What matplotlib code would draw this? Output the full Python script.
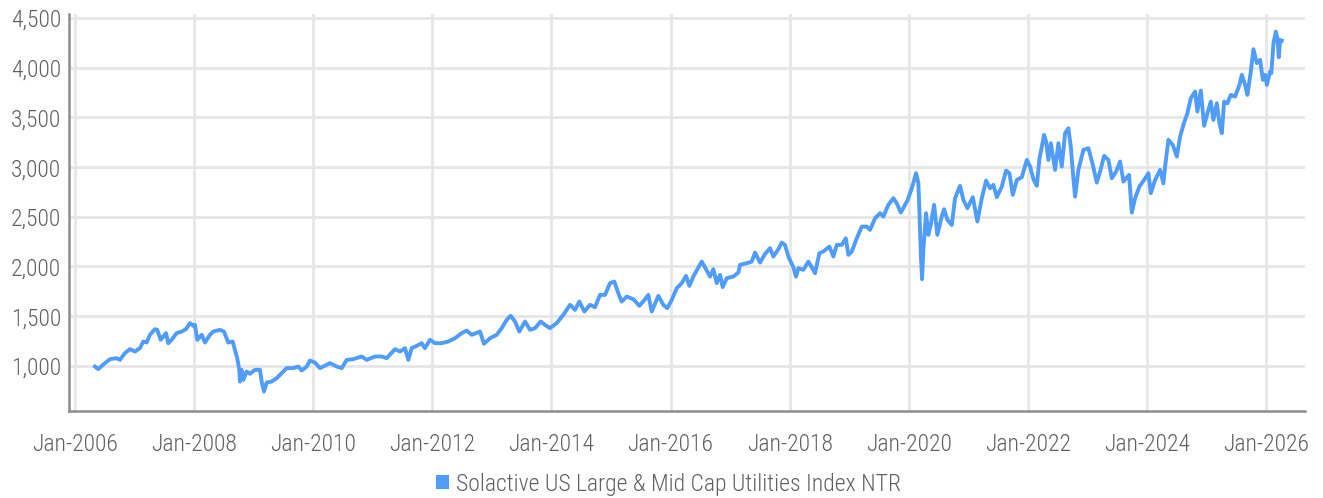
#!/usr/bin/env python3
"""
Solactive US Large & Mid Cap Utilities Index NTR - 走勢圖
"""

import matplotlib
matplotlib.use("Agg")
import matplotlib.pyplot as plt
from matplotlib import font_manager
from matplotlib.patches import Patch
from matplotlib.ticker import FuncFormatter

# 挑一個窄體字型（有哪個用哪個）
installed = {f.name for f in font_manager.fontManager.ttflist}
for name in ['Roboto Condensed', 'Liberation Sans Narrow', 'DejaVu Sans Condensed', 'Roboto']:
    if name in installed:
        FONT = name
        break
else:
    FONT = 'DejaVu Sans'
plt.rcParams['font.family'] = [FONT, 'DejaVu Sans']
plt.rcParams['font.weight'] = 'light'

SERIES_NAME = 'Solactive US Large & Mid Cap Utilities Index NTR'

# 時間（小數年）與指數值
years = [
    2006.336, 2006.391, 2006.470, 2006.588, 2006.700, 2006.756, 2006.840, 2006.924,
    2007.008, 2007.092, 2007.147, 2007.204, 2007.259, 2007.343, 2007.382, 2007.439,
    2007.528, 2007.567, 2007.624, 2007.708, 2007.792, 2007.864, 2007.931, 2007.987,
    2008.015, 2008.054, 2008.128, 2008.183, 2008.267, 2008.322, 2008.435, 2008.502,
    2008.574, 2008.648, 2008.687, 2008.725, 2008.759, 2008.771, 2008.799, 2008.826,
    2008.883, 2008.939, 2009.023, 2009.107, 2009.135, 2009.174, 2009.219, 2009.303,
    2009.387, 2009.471, 2009.555, 2009.666, 2009.750, 2009.807, 2009.891, 2009.946,
    2010.030, 2010.114, 2010.227,
    2010.282, 2010.395, 2010.479, 2010.563, 2010.673, 2010.814, 2010.898, 2011.038,
    2011.150, 2011.234, 2011.374, 2011.458, 2011.542, 2011.597, 2011.654, 2011.738,
    2011.822, 2011.877, 2011.961, 2012.045, 2012.158, 2012.269, 2012.381, 2012.494,
    2012.578, 2012.662, 2012.801, 2012.868, 2012.969, 2013.081, 2013.165, 2013.249,
    2013.316, 2013.389, 2013.461, 2013.557, 2013.641, 2013.725, 2013.820, 2013.892,
    2013.976, 2014.089, 2014.200, 2014.312, 2014.396, 2014.469,
    2014.553, 2014.648, 2014.732, 2014.816, 2014.900, 2014.984, 2015.056, 2015.123,
    2015.180, 2015.264, 2015.375, 2015.476, 2015.555, 2015.627, 2015.684, 2015.795,
    2015.879, 2015.946, 2016.020, 2016.104, 2016.188, 2016.260, 2016.316, 2016.383,
    2016.450, 2016.524, 2016.596, 2016.663, 2016.719, 2016.776, 2016.831, 2016.876,
    2016.944, 2017.054, 2017.139, 2017.167, 2017.280, 2017.364, 2017.419, 2017.503,
    2017.587, 2017.671, 2017.726, 2017.810, 2017.867, 2017.923, 2017.978, 2018.062,
    2018.107, 2018.146, 2018.230, 2018.314, 2018.371, 2018.426, 2018.499, 2018.566,
    2018.667,
    2018.734, 2018.791, 2018.875, 2018.942, 2018.986, 2019.043, 2019.127, 2019.211,
    2019.295, 2019.350, 2019.434, 2019.518, 2019.573, 2019.657, 2019.741, 2019.798,
    2019.866, 2019.921, 2019.977, 2020.051, 2020.123, 2020.161, 2020.178, 2020.202,
    2020.223, 2020.245, 2020.290, 2020.329, 2020.369, 2020.425, 2020.480, 2020.554,
    2020.593, 2020.648, 2020.722, 2020.777, 2020.861, 2020.917, 2020.984, 2021.075,
    2021.152, 2021.226, 2021.298, 2021.365, 2021.421, 2021.478, 2021.562, 2021.634,
    2021.690, 2021.747, 2021.814, 2021.898, 2021.982, 2022.037, 2022.093, 2022.150,
    2022.193, 2022.272, 2022.306, 2022.344, 2022.385, 2022.457, 2022.512, 2022.569,
    2022.625, 2022.680, 2022.720, 2022.764, 2022.792, 2022.848,
    2022.932, 2023.016, 2023.090, 2023.157, 2023.212, 2023.280, 2023.352, 2023.409,
    2023.481, 2023.548, 2023.604, 2023.699, 2023.745, 2023.800, 2023.872, 2023.951,
    2024.024, 2024.064, 2024.136, 2024.220, 2024.275, 2024.304, 2024.359, 2024.433,
    2024.500, 2024.556, 2024.611, 2024.678, 2024.735, 2024.808, 2024.846, 2024.903,
    2024.959, 2025.014, 2025.071, 2025.115, 2025.172, 2025.216, 2025.256, 2025.295,
    2025.350, 2025.407, 2025.479, 2025.552, 2025.592, 2025.647, 2025.686, 2025.743,
    2025.787, 2025.844, 2025.899, 2025.945, 2025.983, 2026.012, 2026.067, 2026.087,
    2026.123, 2026.163, 2026.190, 2026.213, 2026.235, 2026.264,
]

values = [
    993, 967, 1010, 1067, 1077, 1060, 1128, 1168,
    1144, 1178, 1245, 1235, 1312, 1369, 1362, 1262,
    1329, 1228, 1262, 1329, 1345, 1369, 1430, 1402,
    1412, 1262, 1312, 1235, 1312, 1345, 1362, 1345,
    1235, 1245, 1161, 1077, 960, 842, 960, 859,
    943, 920, 960, 960, 842, 741, 832, 842,
    876, 926, 977, 977, 993, 953, 993, 1053,
    1033, 977, 1010,
    1027, 993, 977, 1060, 1067, 1094, 1060, 1094,
    1094, 1077, 1168, 1144, 1178, 1060, 1178, 1201,
    1228, 1178, 1262, 1228, 1228, 1245, 1278, 1329,
    1355, 1312, 1345, 1221, 1278, 1312, 1379, 1463,
    1503, 1446, 1345, 1446, 1362, 1379, 1446, 1412,
    1379, 1430, 1513, 1614, 1563, 1647,
    1546, 1614, 1590, 1714, 1714, 1832, 1848, 1731,
    1647, 1697, 1671, 1604, 1657, 1714, 1546, 1704,
    1614, 1580, 1664, 1781, 1832, 1905, 1805, 1898,
    1972, 2049, 1972, 1898, 1972, 1832, 1915, 1792,
    1882, 1898, 1939, 2016, 2033, 2049, 2140, 2039,
    2127, 2184, 2100, 2174, 2240, 2217, 2100, 1993,
    1898, 1983, 1966, 2049, 1993, 1932, 2134, 2150,
    2200,
    2100, 2217, 2217, 2284, 2117, 2150, 2284, 2401,
    2401, 2368, 2485, 2536, 2502, 2620, 2687, 2636,
    2542, 2602, 2663, 2787, 2938, 2837, 2569, 2134,
    1872, 2167, 2536, 2318, 2418, 2620, 2318, 2502,
    2576, 2469, 2418, 2687, 2811, 2670, 2586, 2697,
    2452, 2687, 2864, 2787, 2821, 2697, 2804, 2965,
    2938, 2720, 2871, 2898, 3072, 3005, 2878, 2811,
    3079, 3324, 3256, 3072, 3240, 2972, 3240, 3005,
    3341, 3391, 3206, 2888, 2703, 2972,
    3173, 3190, 3022, 2844, 2955, 3113, 3072, 2888,
    2955, 3056, 2854, 2921, 2542, 2687, 2804, 2871,
    2938, 2737, 2871, 2972, 2837, 3005, 3274, 3223,
    3106, 3307, 3425, 3542, 3693, 3760, 3559, 3770,
    3415, 3542, 3659, 3475, 3642, 3441, 3341, 3659,
    3642, 3726, 3709, 3827, 3928, 3827, 3726, 3962,
    4186, 4046, 4079, 3878, 3928, 3827, 3962, 3945,
    4246, 4363, 4296, 4105, 4279, 4273,
]

tick_years = list(range(2006, 2027, 2))
y_ticks = [1000, 1500, 2000, 2500, 3000, 3500, 4000, 4500]

LINE_COLOR = '#509cf9'
TEXT_COLOR = '#606060'
GRID_COLOR = '#e6e6e6'
SPINE_COLOR = '#8c8c8c'


def main():
    fig = plt.figure(figsize=(13.23, 4.98), dpi=100)
    ax = fig.add_axes([0.0525, 0.175, 0.934, 0.797])

    ax.plot(years, values, color=LINE_COLOR, linewidth=2.8, solid_joinstyle='round')

    ax.set_xlim(2005.908, 2026.655)
    ax.set_ylim(547, 4541)

    ax.set_xticks(tick_years)
    ax.set_xticklabels([f'Jan-{y}' for y in tick_years])
    ax.set_yticks(y_ticks)
    ax.yaxis.set_major_formatter(FuncFormatter(lambda v, p: f'{int(v):,}'))

    ax.grid(True, color=GRID_COLOR, linewidth=2.0)
    ax.set_axisbelow(True)
    ax.tick_params(length=0, labelsize=17, colors=TEXT_COLOR)
    ax.tick_params(axis='x', pad=16)
    ax.tick_params(axis='y', pad=6)

    for side in ['top', 'right']:
        ax.spines[side].set_visible(False)
    for side in ['left', 'bottom']:
        ax.spines[side].set_color(SPINE_COLOR)
        ax.spines[side].set_linewidth(1.8)

    # 圖例（方塊）
    handle = Patch(facecolor=LINE_COLOR, edgecolor='none')
    fig.legend([handle], [SERIES_NAME], loc='center', bbox_to_anchor=(0.505, 0.028),
               frameon=False, fontsize=17, labelcolor=TEXT_COLOR,
               handlelength=0.55, handleheight=0.55, handletextpad=0.3)

    fig.savefig('out.png', dpi=100)


if __name__ == '__main__':
    main()
